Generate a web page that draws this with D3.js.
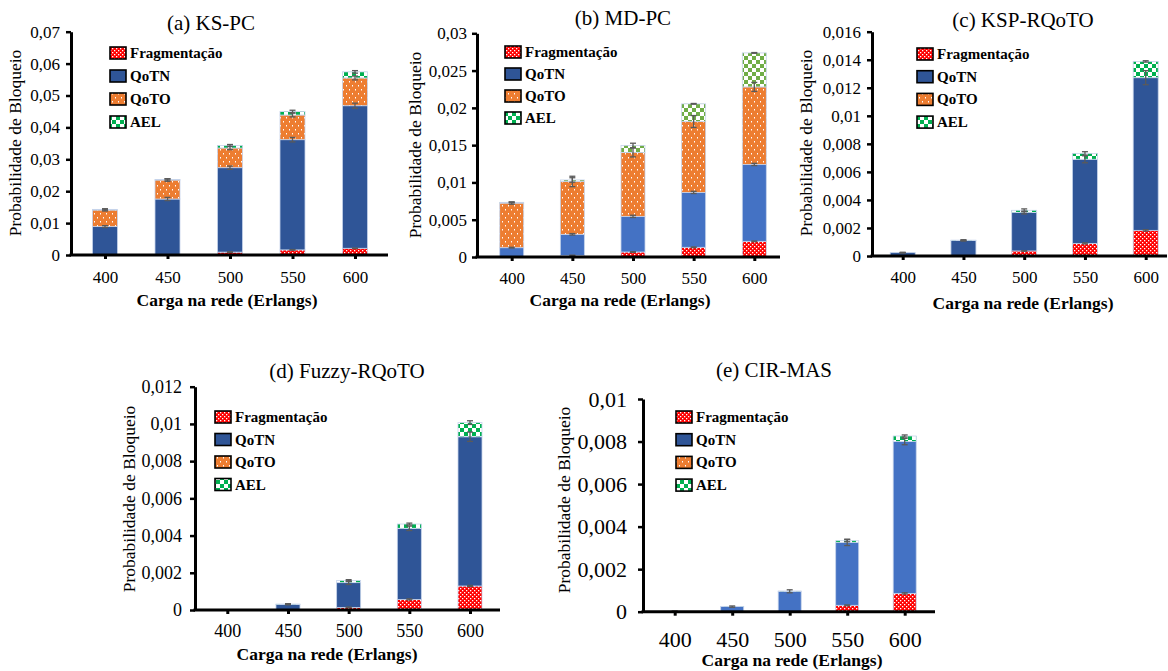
<!DOCTYPE html>
<html>
<head>
<meta charset="utf-8">
<script src="https://cdn.jsdelivr.net/npm/d3@7"></script>
<style>
    body { margin: 0; background: #fff; }
    svg text { font-family: "Liberation Serif", "Times New Roman", serif; fill: #000; }
</style>
</head>
<body>
<svg id="chart" width="1168" height="671"></svg>
<script>
// x categories (load in Erlangs)
const loads = ['400', '450', '500', '550', '600'];
const seriesNames = ['Fragmentação', 'QoTN', 'QoTO', 'AEL'];

// (a) KS-PC
const ksPcFrag = [0, 0.0002, 0.0009, 0.0016, 0.0021];
const ksPcQotn = [0.0089, 0.01735, 0.02647, 0.03455, 0.0447];
const ksPcQoto = [0.0052, 0.00595, 0.00617, 0.00773, 0.0087];
const ksPcAel = [0.0002, 0.0002, 0.0008, 0.0011, 0.0019];
const ksPcErr = [[0, 0, 0.0001, 0.0001, 0.0001], [0.0003, 0.0005, 0.0005, 0.0007, 0.0008], [0.0003, 0.0004, 0.0005, 0.0006, 0.0006], [0.0002, 0.0002, 0.0003, 0.0004, 0.0004]];
const ksPcTicks = [0, 0.01, 0.02, 0.03, 0.04, 0.05, 0.06, 0.07];

// (b) MD-PC
const mdPcFrag = [0, 0.0002, 0.00067, 0.0013, 0.0021];
const mdPcQotn = [0.00125, 0.00284, 0.00478, 0.00736, 0.01031];
const mdPcQoto = [0.00598, 0.00709, 0.00857, 0.00951, 0.0104];
const mdPcAel = [0.0001, 0.0002, 0.00094, 0.00237, 0.00456];
const mdPcErr = [[0, 0.00005, 0.00005, 0.00005, 0.00005], [0.00005, 0.0001, 0.00015, 0.00015, 0.00015], [0.00015, 0.0007, 0.0006, 0.0008, 0.0006], [0.00005, 0.0003, 0.0003, 0.00005, 0.00005]];
const mdPcTicks = [0, 0.005, 0.01, 0.015, 0.02, 0.025, 0.03];

// (c) KSP-RQoTO
const kspFrag = [0, 0, 0.00036, 0.0009, 0.00183];
const kspQotn = [0.00024, 0.0011, 0.00274, 0.006, 0.01089];
const kspQoto = [0, 0, 0, 0, 0];
const kspAel = [0, 0.00003, 0.00016, 0.00042, 0.00116];
const kspErr = [[0, 0, 0.00002, 0.00004, 0.00005], [0.00002, 0.00003, 0.0001, 0.00025, 0.0005], [0, 0, 0, 0, 0], [0.00001, 0.00003, 0.0001, 0.00012, 0.00005]];
const kspTicks = [0, 0.002, 0.004, 0.006, 0.008, 0.01, 0.012, 0.014, 0.016];

// (d) Fuzzy-RQoTO
const fuzzyFrag = [0, 0, 0.00014, 0.00057, 0.00129];
const fuzzyQotn = [0, 0.0003, 0.00133, 0.00382, 0.00802];
const fuzzyQoto = [0, 0, 0, 0, 0];
const fuzzyAel = [0, 0.00002, 0.00011, 0.00023, 0.00076];
const fuzzyErr = [[0, 0, 0.00002, 0.00003, 0.00003], [0, 0.00002, 0.0001, 0.00012, 0.00025], [0, 0, 0, 0, 0], [0, 0.00002, 0.00005, 0.00005, 0.0001]];
const fuzzyTicks = [0, 0.002, 0.004, 0.006, 0.008, 0.01, 0.012];

// (e) CIR-MAS
const cirFrag = [0, 0, 0, 0.0003, 0.00086];
const cirQotn = [0.00002, 0.00024, 0.00096, 0.00296, 0.00714];
const cirQoto = [0, 0, 0, 0, 0];
const cirAel = [0, 0.00001, 0.00001, 0.00008, 0.00026];
const cirErr = [[0, 0, 0, 0.00002, 0.00003], [0.00001, 0.00003, 0.00007, 0.00015, 0.00015], [0, 0, 0, 0, 0], [0, 0, 0, 0.00005, 0.00005]];
const cirTicks = [0, 0.002, 0.004, 0.006, 0.008, 0.01];

const darkBlue = '#2F5597';
const lightBlue = '#4472C4';

const panels = [
    { title: '(a) KS-PC', data: [ksPcFrag, ksPcQotn, ksPcQoto, ksPcAel], err: ksPcErr, ticks: ksPcTicks,
      blue: darkBlue, ael: 'ael0', axisX: 71, xEnd: 388, y0: 255, yTop: 31.7, firstX: 105, lastX: 355, barW: 25,
      tickFont: 17, yPad: 6, xLabY: 28, titleX: 211, titleY: 30, xTitleX: 227, xTitleY: 306, yTitleX: 15, yTitleY: 143,
      legX: 110, legY: 53, legStep: 23 },
    { title: '(b) MD-PC', data: [mdPcFrag, mdPcQotn, mdPcQoto, mdPcAel], err: mdPcErr, ticks: mdPcTicks,
      blue: lightBlue, ael: 'ael1', axisX: 477, xEnd: 780, y0: 257, yTop: 33.3, firstX: 511.7, lastX: 754.3, barW: 24,
      tickFont: 17, yPad: 5, xLabY: 27, titleX: 623, titleY: 25, xTitleX: 620, xTitleY: 306, yTitleX: 415, yTitleY: 145,
      legX: 505, legY: 52, legStep: 22 },
    { title: '(c) KSP-RQoTO', data: [kspFrag, kspQotn, kspQoto, kspAel], err: kspErr, ticks: kspTicks,
      blue: darkBlue, ael: 'ael0', axisX: 872, xEnd: 1167, y0: 256, yTop: 31.7, firstX: 902.7, lastX: 1145.7, barW: 25,
      tickFont: 17, yPad: 6, xLabY: 27, titleX: 1023, titleY: 27, xTitleX: 1023, xTitleY: 309, yTitleX: 806, yTitleY: 143,
      legX: 917, legY: 54, legStep: 22.7 },
    { title: '(d) Fuzzy-RQoTO', data: [fuzzyFrag, fuzzyQotn, fuzzyQoto, fuzzyAel], err: fuzzyErr, ticks: fuzzyTicks,
      blue: darkBlue, ael: 'ael0', axisX: 195, xEnd: 500, y0: 610, yTop: 386.7, firstX: 227.3, lastX: 470, barW: 24,
      tickFont: 18, yPad: 8, xLabY: 27, titleX: 347, titleY: 378, xTitleX: 327, xTitleY: 660, yTitleX: 129, yTitleY: 499,
      legX: 215, legY: 417, legStep: 22.5 },
    { title: '(e) CIR-MAS', data: [cirFrag, cirQotn, cirQoto, cirAel], err: cirErr, ticks: cirTicks,
      blue: lightBlue, ael: 'ael0', axisX: 643, xEnd: 935, y0: 611.7, yTop: 399, firstX: 674.7, lastX: 904.7, barW: 23,
      tickFont: 22, yPad: 11, xLabY: 35, titleX: 774, titleY: 377, xTitleX: 792, xTitleY: 666, yTitleX: 564, yTitleY: 500,
      legX: 676, legY: 417, legStep: 22.7 }
];

const svg = d3.select('#chart');
const defs = svg.append('defs');

// red with fine white dots
let pFrag = defs.append('pattern').attr('id', 'frag').attr('patternUnits', 'userSpaceOnUse')
    .attr('width', 4).attr('height', 4);
pFrag.append('rect').attr('width', 4).attr('height', 4).attr('fill', '#FF0000');
pFrag.append('rect').attr('x', 0).attr('y', 0).attr('width', 1.3).attr('height', 1.3).attr('fill', '#fff');
pFrag.append('rect').attr('x', 2).attr('y', 2).attr('width', 1.3).attr('height', 1.3).attr('fill', '#fff');

// orange with sparse white dots
let pQoto = defs.append('pattern').attr('id', 'qoto').attr('patternUnits', 'userSpaceOnUse')
    .attr('width', 6).attr('height', 8);
pQoto.append('rect').attr('width', 6).attr('height', 8).attr('fill', '#ED7D31');
pQoto.append('rect').attr('x', 1).attr('y', 1).attr('width', 1).attr('height', 1.5).attr('fill', '#fff');
pQoto.append('rect').attr('x', 4).attr('y', 5).attr('width', 1).attr('height', 1.5).attr('fill', '#fff');

// green / white checkerboard
function checker(id, color) {
    let p = defs.append('pattern').attr('id', id).attr('patternUnits', 'userSpaceOnUse')
        .attr('width', 8).attr('height', 8);
    p.append('rect').attr('width', 8).attr('height', 8).attr('fill', '#fff');
    p.append('rect').attr('width', 4).attr('height', 4).attr('fill', color);
    p.append('rect').attr('x', 4).attr('y', 4).attr('width', 4).attr('height', 4).attr('fill', color);
}
checker('ael0', '#00B050');
checker('ael1', '#70AD47');

function fmt(d) {
    if (d === 0) return '0';
    return String(+d.toFixed(4)).replace('.', ',');
}

function drawPanel(cfg) {
    let g = svg.append('g');

    let x = d3.scalePoint().domain(loads).range([cfg.firstX, cfg.lastX]);
    let y = d3.scaleLinear().domain([0, cfg.ticks[cfg.ticks.length - 1]]).range([cfg.y0, cfg.yTop]);

    let fills = ['url(#frag)', cfg.blue, 'url(#qoto)', 'url(#' + cfg.ael + ')'];

    // stacked segments
    let rows = loads.map(function(l, i) {
        let r = { load: l };
        seriesNames.forEach(function(s, k) { r[s] = cfg.data[k][i]; });
        return r;
    });
    let stacked = d3.stack().keys(seriesNames)(rows);

    stacked.forEach(function(layer, k) {
        g.append('g').selectAll('rect')
            .data(layer)
            .join('rect')
            .attr('x', function(d) { return x(d.data.load) - cfg.barW / 2; })
            .attr('width', cfg.barW)
            .attr('y', function(d) { return y(d[1]); })
            .attr('height', function(d) { return Math.max(0, y(d[0]) - y(d[1])); })
            .attr('fill', fills[k])
            .attr('stroke', function(d) { return d[1] - d[0] > 0 ? '#c5d3ea' : 'none'; })
            .attr('stroke-width', 0.8);
    });

    // error bars at the top of each segment
    stacked.forEach(function(layer, k) {
        let eg = g.append('g').attr('stroke', '#5a5a5a').attr('stroke-width', 1.3);
        layer.forEach(function(d, i) {
            let e = cfg.err[k][i];
            if (!e) return;
            let cx = x(d.data.load);
            let top = y(d[1] + e), bot = y(Math.max(0, d[1] - e));
            eg.append('line').attr('x1', cx).attr('x2', cx).attr('y1', top).attr('y2', bot);
            eg.append('line').attr('x1', cx - 3).attr('x2', cx + 3).attr('y1', top).attr('y2', top);
            eg.append('line').attr('x1', cx - 3).attr('x2', cx + 3).attr('y1', bot).attr('y2', bot);
        });
    });

    // y axis
    let yAxis = d3.axisLeft(y).tickValues(cfg.ticks).tickFormat(fmt)
        .tickSize(5).tickSizeOuter(0).tickPadding(cfg.yPad);
    let ya = g.append('g').attr('transform', `translate(${cfg.axisX}, 0)`).call(yAxis);
    ya.select('.domain').attr('stroke', '#000').attr('stroke-width', 3);
    ya.selectAll('.tick line').attr('stroke', '#000').attr('stroke-width', 2.5);
    ya.selectAll('.tick text').style('font-size', cfg.tickFont + 'px');

    // x axis
    let xAxis = d3.axisBottom(x).tickSize(4).tickSizeOuter(0);
    let xa = g.append('g').attr('transform', `translate(0, ${cfg.y0})`).call(xAxis);
    xa.select('.domain').remove();
    xa.append('line').attr('x1', cfg.axisX - 1.5).attr('x2', cfg.xEnd).attr('y1', 0).attr('y2', 0)
        .attr('stroke', '#000').attr('stroke-width', 3);
    xa.selectAll('.tick line').attr('stroke', '#000').attr('stroke-width', 3);
    xa.selectAll('.tick text').attr('y', cfg.xLabY).attr('dy', null)
        .style('font-size', cfg.tickFont + 'px');

    // titles
    g.append('text').attr('x', cfg.titleX).attr('y', cfg.titleY).attr('text-anchor', 'middle')
        .style('font-size', '21px').text(cfg.title);
    g.append('text').attr('x', cfg.xTitleX).attr('y', cfg.xTitleY).attr('text-anchor', 'middle')
        .style('font-size', '17.5px').style('font-weight', 'bold').text('Carga na rede (Erlangs)');
    g.append('text').attr('transform', `translate(${cfg.yTitleX}, ${cfg.yTitleY}) rotate(-90)`)
        .attr('text-anchor', 'middle').attr('dominant-baseline', 'central')
        .style('font-size', '17.5px').text('Probabilidade de Bloqueio');

    // legend
    let legFills = ['url(#frag)', darkBlue, 'url(#qoto)', 'url(#ael0)'];
    let leg = g.append('g');
    seriesNames.forEach(function(s, k) {
        let ly = cfg.legY + k * cfg.legStep;
        leg.append('rect').attr('x', cfg.legX).attr('y', ly - 6).attr('width', 16).attr('height', 12)
            .attr('fill', legFills[k]).attr('stroke', '#000').attr('stroke-width', 1.6);
        leg.append('text').attr('x', cfg.legX + 20).attr('y', ly).attr('dominant-baseline', 'central')
            .style('font-size', '15px').style('font-weight', 'bold').text(s);
    });
}

panels.forEach(drawPanel);
</script>
</body>
</html>
